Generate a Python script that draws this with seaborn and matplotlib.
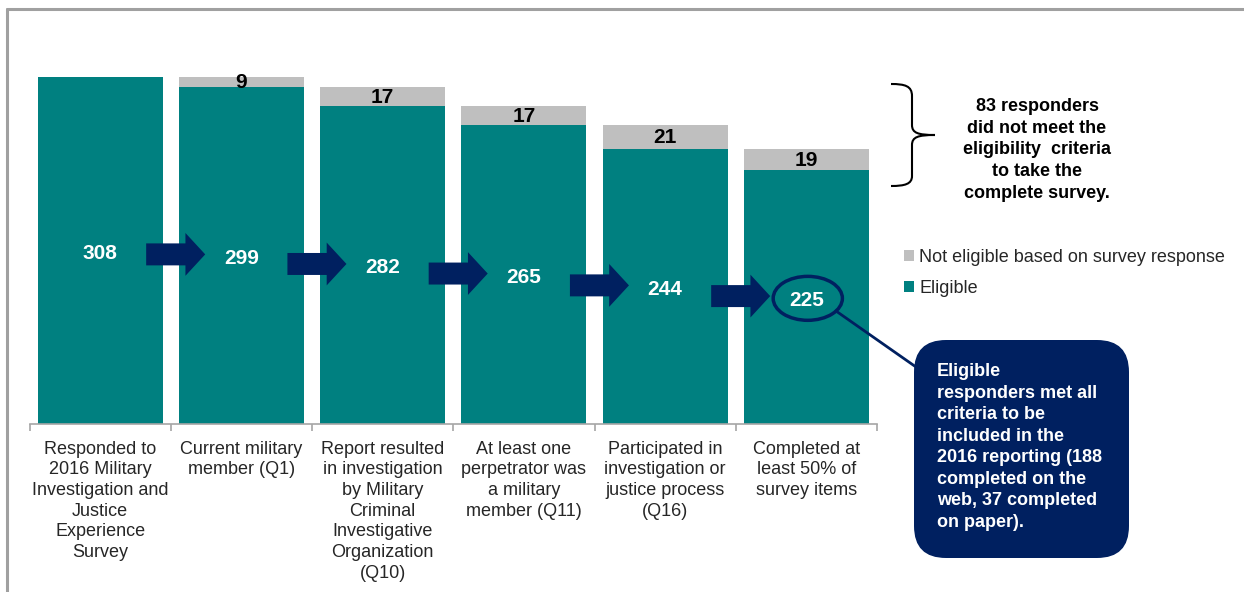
import matplotlib
matplotlib.use("Agg")
import matplotlib.pyplot as plt
import seaborn as sns
import pandas as pd
import numpy as np
from matplotlib.patches import FancyArrow, Ellipse, FancyBboxPatch, PathPatch, Patch
from matplotlib.path import Path
from matplotlib.lines import Line2D

# ---------------- data ----------------
categories = [
    "Responded to\n2016 Military\nInvestigation and\nJustice\nExperience\nSurvey",
    "Current military\nmember (Q1)",
    "Report resulted\nin investigation\nby Military\nCriminal\nInvestigative\nOrganization\n(Q10)",
    "At least one\nperpetrator was\na military\nmember (Q11)",
    "Participated in\ninvestigation or\njustice process\n(Q16)",
    "Completed at\nleast 50% of\nsurvey items",
]
eligible = [308, 299, 282, 265, 244, 225]
not_eligible = [0, 9, 17, 17, 21, 19]
legend_labels = ["Not eligible based on survey response", "Eligible"]
brace_text = "83 responders\ndid not meet the\neligibility  criteria\nto take the\ncomplete survey."
callout_text = ("Eligible\nresponders met all\ncriteria to be\nincluded in the\n"
                "2016 reporting (188\ncompleted on the\nweb, 37 completed\non paper).")

TEAL = "#008080"
GRAY = "#BFBFBF"
NAVY = "#002060"
TXT = "#262626"

sns.set_theme(style="white")
plt.rcParams['font.family'] = ['Liberation Sans', 'DejaVu Sans']

W, H = 1244, 592
fig = plt.figure(figsize=(W / 100, H / 100), dpi=100)


def P(px, py):
    """pixel (from top-left) -> inches for fig.dpi_scale_trans"""
    return (px / 100.0, (H - py) / 100.0)


ymax = 350
ppu = 1.127
ax_left, ax_right, ax_bottom = 29.5, 877, 424
ax = fig.add_axes([ax_left / W, 1 - ax_bottom / H, (ax_right - ax_left) / W, ymax * ppu / H])

df = pd.DataFrame({"cat": categories, "eligible": eligible, "not_eligible": not_eligible})
df["total"] = df["eligible"] + df["not_eligible"]

sns.barplot(data=df, x="cat", y="total", order=categories, color=GRAY, saturation=1,
            width=0.886, errorbar=None, edgecolor="none", linewidth=0, ax=ax)
sns.barplot(data=df, x="cat", y="eligible", order=categories, color=TEAL, saturation=1,
            width=0.886, errorbar=None, edgecolor="none", linewidth=0, ax=ax)

ax.set_xlim(-0.5, len(categories) - 0.5)
ax.set_ylim(0, ymax)
ax.set_xlabel("")
ax.set_ylabel("")
ax.set_yticks([])
for s in ["top", "right", "left"]:
    ax.spines[s].set_visible(False)
ax.spines["bottom"].set_color("#A6A6A6")
ax.spines["bottom"].set_linewidth(1.2)
ax.set_xticks(np.arange(-0.5, len(categories), 1), minor=True)
ax.tick_params(axis="x", which="major", length=0, pad=12, labelsize=13, labelcolor=TXT)
ax.tick_params(axis="x", which="minor", bottom=True, length=5, width=1.2, color="#A6A6A6", direction="out")
for lab in ax.get_xticklabels():
    lab.set_linespacing(1.28)
    lab.set_multialignment("center")

# value labels
for i, (e, n) in enumerate(zip(eligible, not_eligible)):
    ax.text(i, e / 2 - 2.5, str(e), ha="center", va="center", color="white",
            fontsize=15, fontweight="bold")
    if n > 0:
        ax.text(i, e + n / 2 - 0.5, str(n), ha="center", va="center", color="black",
                fontsize=15, fontweight="bold")

# arrows between bars
for i in range(len(categories) - 1):
    yc = eligible[i + 1] / 2 + 1
    arr = FancyArrow(i + 0.326, yc, 0.418, 0, width=19.5, head_width=38, head_length=0.14,
                     length_includes_head=True, color=NAVY, linewidth=0)
    ax.add_patch(arr)

# ellipse around last value
ax.add_patch(Ellipse((5.01, eligible[5] / 2 - 1), width=0.49, height=39, fill=False,
                     edgecolor=NAVY, linewidth=2.5))

# connector line
fig.add_artist(Line2D([P(836, 311)[0], P(916, 367)[0]], [P(836, 311)[1], P(916, 367)[1]],
                      transform=fig.dpi_scale_trans, color=NAVY, linewidth=2))

# callout box
x0, y0 = P(914, 558)
x1, y1 = P(1129, 340)
box = FancyBboxPatch((x0, y0), x1 - x0, y1 - y0,
                     boxstyle="round,pad=0,rounding_size=0.32",
                     transform=fig.dpi_scale_trans, facecolor=NAVY, edgecolor="none")
fig.add_artist(box)
tx, ty = P(937, 447)
fig.text(tx, ty, callout_text, transform=fig.dpi_scale_trans, ha="left", va="center",
         color="white", fontsize=13, fontweight="bold", linespacing=1.35)

# brace
verts = [P(891, 84), P(905, 84), P(912, 86), P(912, 96),
         P(912, 125),
         P(912, 133), P(918, 135), P(935, 135),
         P(918, 135), P(912, 137), P(912, 145),
         P(912, 176),
         P(912, 184), P(905, 186), P(891, 186)]
codes = [Path.MOVETO, Path.CURVE4, Path.CURVE4, Path.CURVE4,
         Path.LINETO,
         Path.CURVE4, Path.CURVE4, Path.CURVE4,
         Path.CURVE4, Path.CURVE4, Path.CURVE4,
         Path.LINETO,
         Path.CURVE4, Path.CURVE4, Path.CURVE4]
fig.add_artist(PathPatch(Path(verts, codes), transform=fig.dpi_scale_trans,
                         facecolor="none", edgecolor="black", linewidth=1.5))
bx, by = P(1037, 150)
fig.text(bx, by, brace_text, transform=fig.dpi_scale_trans, ha="center", va="center",
         multialignment="center", color="black", fontsize=13, fontweight="bold", linespacing=1.37)

# legend
handles = [Patch(facecolor=GRAY, edgecolor="none"), Patch(facecolor=TEAL, edgecolor="none")]
lx, ly = P(904, 249)
fig.legend(handles, legend_labels, loc="upper left", bbox_to_anchor=(lx / (W / 100), ly / (H / 100)),
           frameon=False, fontsize=13, handlelength=0.55, handleheight=0.55, handletextpad=0.3,
           labelspacing=0.75, borderpad=0, borderaxespad=0, labelcolor=TXT)

# outer frame (top and left edges)
fig.add_artist(Line2D([P(7, 9)[0], P(1244, 9)[0]], [P(7, 9)[1], P(1244, 9)[1]],
                      transform=fig.dpi_scale_trans, color="#A0A0A0", linewidth=2.2))
fig.add_artist(Line2D([P(7, 9)[0], P(7, 592)[0]], [P(7, 9)[1], P(7, 592)[1]],
                      transform=fig.dpi_scale_trans, color="#A0A0A0", linewidth=2.2))

fig.savefig("out.png", dpi=100)
